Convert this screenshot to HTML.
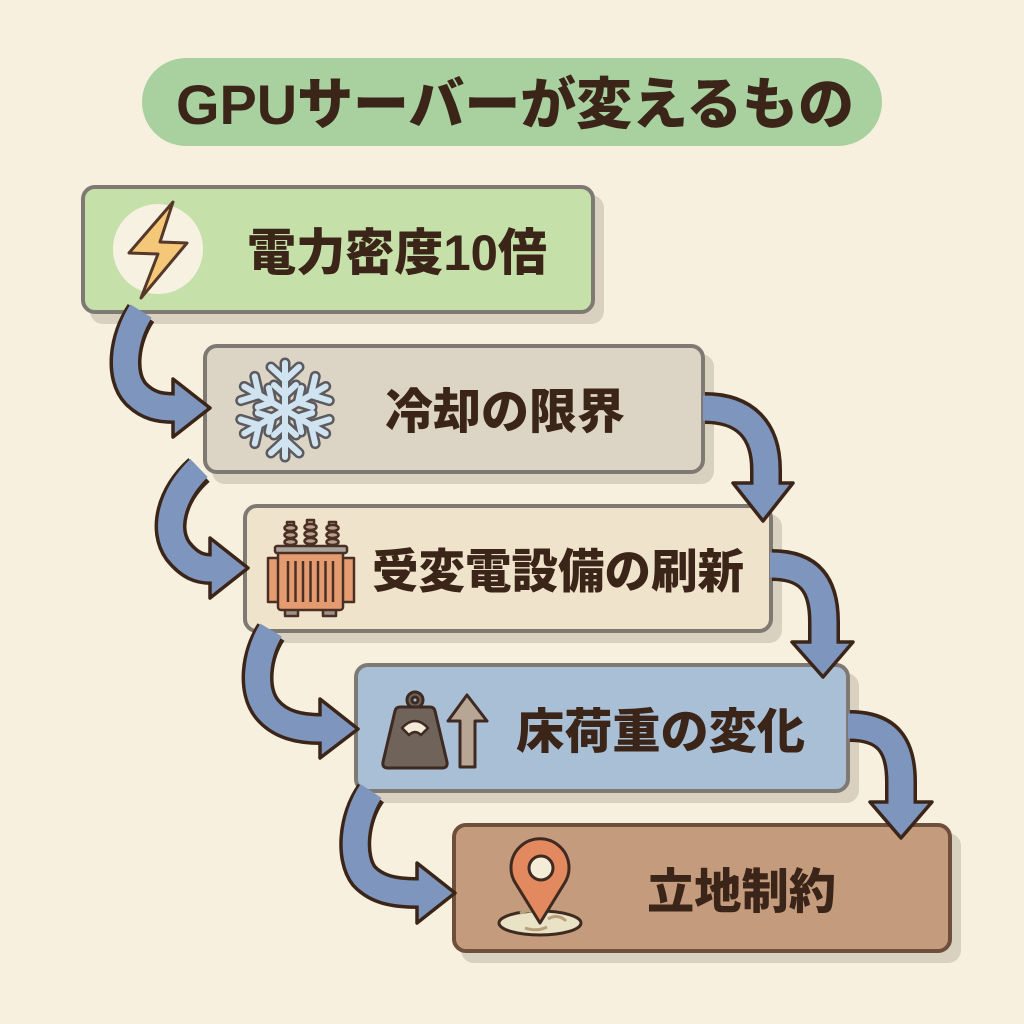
<!DOCTYPE html>
<html><head><meta charset="utf-8"><style>
html,body{margin:0;padding:0;background:#f8f0df;}
svg{display:block;}
.t{font-family:"Liberation Sans","Noto Sans CJK JP",sans-serif;font-weight:900;fill:#3b2519;}
</style></head><body>
<svg width="1024" height="1024" viewBox="0 0 1024 1024" xmlns="http://www.w3.org/2000/svg">
<rect width="1024" height="1024" fill="#f8f0df"/>
<!-- title -->
<rect x="142" y="58" width="740" height="88" rx="44" fill="#a9d09f"/>
<text class="t" x="176" y="124" font-size="56" textLength="678" lengthAdjust="spacingAndGlyphs">GPUサーバーが変えるもの</text>

<!-- shadows -->
<g fill="#8a8070" opacity="0.28">
<rect x="90" y="195" width="514" height="129" rx="13"/>
<rect x="212" y="354" width="502" height="130" rx="13"/>
<rect x="252" y="514" width="530" height="129" rx="13"/>
<rect x="363" y="673" width="496" height="130" rx="13"/>
<rect x="461" y="833" width="500" height="130" rx="13"/>
</g>
<!-- boxes -->
<rect x="83" y="187" width="510" height="125" rx="12" fill="#c6e0aa" stroke="#7e7a73" stroke-width="4"/>
<rect x="205" y="346" width="498" height="126" rx="12" fill="#dcd4c5" stroke="#7e7a73" stroke-width="4"/>
<rect x="245" y="506" width="526" height="125" rx="12" fill="#efe3cb" stroke="#7e7a73" stroke-width="4"/>
<rect x="356" y="665" width="492" height="126" rx="12" fill="#a9bfd6" stroke="#7e7a73" stroke-width="4"/>
<rect x="454" y="825" width="496" height="126" rx="12" fill="#c49c7d" stroke="#6e4e3c" stroke-width="4"/>

<!-- texts -->
<text class="t" x="247" y="270" font-size="50" textLength="300" lengthAdjust="spacingAndGlyphs">電力密度10倍</text>
<text class="t" x="385" y="428" font-size="48" textLength="240" lengthAdjust="spacingAndGlyphs">冷却の限界</text>
<text class="t" x="372" y="588" font-size="47" textLength="372" lengthAdjust="spacingAndGlyphs">受変電設備の刷新</text>
<text class="t" x="516" y="748" font-size="48" textLength="289" lengthAdjust="spacingAndGlyphs">床荷重の変化</text>
<text class="t" x="647" y="908" font-size="48" textLength="189" lengthAdjust="spacingAndGlyphs">立地制約</text>

<!-- lightning icon -->
<circle cx="158" cy="249" r="45" fill="#f7f1e1"/>
<polygon points="173,202 129,253 158,254 141,298 187,243 160,242" fill="#f4c878" stroke="#55382a" stroke-width="3" stroke-linejoin="round"/>

<!-- snowflake -->
<g transform="translate(285,410)" stroke-linecap="round" stroke-linejoin="round" fill="none">
  <g stroke="#5c5a5e" stroke-width="11">
    <g><line x1="0" y1="0" x2="0" y2="-47"/><polyline points="-14,-43 0,-30 14,-43"/><polyline points="-11,-25 0,-15 11,-25"/></g>
    <g transform="rotate(60)"><line x1="0" y1="0" x2="0" y2="-47"/><polyline points="-14,-43 0,-30 14,-43"/><polyline points="-11,-25 0,-15 11,-25"/></g>
    <g transform="rotate(120)"><line x1="0" y1="0" x2="0" y2="-47"/><polyline points="-14,-43 0,-30 14,-43"/><polyline points="-11,-25 0,-15 11,-25"/></g>
    <g transform="rotate(180)"><line x1="0" y1="0" x2="0" y2="-47"/><polyline points="-14,-43 0,-30 14,-43"/><polyline points="-11,-25 0,-15 11,-25"/></g>
    <g transform="rotate(240)"><line x1="0" y1="0" x2="0" y2="-47"/><polyline points="-14,-43 0,-30 14,-43"/><polyline points="-11,-25 0,-15 11,-25"/></g>
    <g transform="rotate(300)"><line x1="0" y1="0" x2="0" y2="-47"/><polyline points="-14,-43 0,-30 14,-43"/><polyline points="-11,-25 0,-15 11,-25"/></g>
  </g>
  <g stroke="#cfe3f0" stroke-width="6">
    <g><line x1="0" y1="0" x2="0" y2="-47"/><polyline points="-14,-43 0,-30 14,-43"/><polyline points="-11,-25 0,-15 11,-25"/></g>
    <g transform="rotate(60)"><line x1="0" y1="0" x2="0" y2="-47"/><polyline points="-14,-43 0,-30 14,-43"/><polyline points="-11,-25 0,-15 11,-25"/></g>
    <g transform="rotate(120)"><line x1="0" y1="0" x2="0" y2="-47"/><polyline points="-14,-43 0,-30 14,-43"/><polyline points="-11,-25 0,-15 11,-25"/></g>
    <g transform="rotate(180)"><line x1="0" y1="0" x2="0" y2="-47"/><polyline points="-14,-43 0,-30 14,-43"/><polyline points="-11,-25 0,-15 11,-25"/></g>
    <g transform="rotate(240)"><line x1="0" y1="0" x2="0" y2="-47"/><polyline points="-14,-43 0,-30 14,-43"/><polyline points="-11,-25 0,-15 11,-25"/></g>
    <g transform="rotate(300)"><line x1="0" y1="0" x2="0" y2="-47"/><polyline points="-14,-43 0,-30 14,-43"/><polyline points="-11,-25 0,-15 11,-25"/></g>
  </g>
</g>

<!-- transformer -->
<g stroke="#4a3024" stroke-width="2.5" stroke-linejoin="round">
  <g fill="#b9a28c">
    <rect x="287" y="522" width="7" height="25"/>
    <rect x="307" y="520" width="7" height="27"/>
    <rect x="329" y="522" width="7" height="25"/>
    <ellipse cx="290.5" cy="528" rx="6" ry="3"/><ellipse cx="290.5" cy="535" rx="6" ry="3"/><ellipse cx="290.5" cy="542" rx="6" ry="3"/>
    <ellipse cx="310.5" cy="527" rx="6" ry="3"/><ellipse cx="310.5" cy="534" rx="6" ry="3"/><ellipse cx="310.5" cy="541" rx="6" ry="3"/>
    <ellipse cx="332.5" cy="528" rx="6" ry="3"/><ellipse cx="332.5" cy="535" rx="6" ry="3"/><ellipse cx="332.5" cy="542" rx="6" ry="3"/>
  </g>
  <rect x="285" y="608" width="13" height="8" fill="#9c948c"/>
  <rect x="323" y="608" width="13" height="8" fill="#9c948c"/>
  <rect x="268" y="558" width="12" height="44" fill="#e59c72"/>
  <rect x="342" y="558" width="12" height="44" fill="#e59c72"/>
  <rect x="278" y="551" width="65" height="59" rx="3" fill="#e49b70"/>
  <rect x="275" y="546" width="72" height="7" rx="2" fill="#aaa49c"/>
</g>
<g stroke="#4a3024" stroke-width="2.5">
  <line x1="288" y1="561" x2="288" y2="602"/><line x1="295.5" y1="561" x2="295.5" y2="602"/><line x1="303" y1="561" x2="303" y2="602"/><line x1="310.5" y1="561" x2="310.5" y2="602"/><line x1="318" y1="561" x2="318" y2="602"/><line x1="325.5" y1="561" x2="325.5" y2="602"/><line x1="333" y1="561" x2="333" y2="602"/>
</g>

<!-- weight -->
<g stroke="#3e2a20" stroke-width="3" stroke-linejoin="round">
  <circle cx="415" cy="700" r="8" fill="#6f635a"/>
  <path d="M400,707 L430,707 Q434,707 435,711 L447,762 Q448,768 442,768 L388,768 Q382,768 383,762 L395,711 Q396,707 400,707 Z" fill="#6f635a"/>
  <circle cx="415" cy="700" r="3" fill="#a9bfd6"/>
  <path d="M402,728 Q415,714 428,728 L421,735 Q415,729 409,735 Z" fill="#f3ead8" stroke-width="2.5"/>
  <polygon points="467,695 487,721 475,721 475,767 460,767 460,721 448,721" fill="#b8a695"/>
</g>

<!-- pin -->
<g stroke="#3e2a20" stroke-width="3" stroke-linejoin="round">
  <ellipse cx="540" cy="923" rx="41" ry="12" fill="#e9e2c4"/>
  <path d="M520,913 q8,-4 16,0 M548,919 q10,-6 18,2 M525,928 q12,4 22,-1" stroke="#b9a07c" stroke-width="3" fill="none"/>
  <path d="M540,923 L516,884 A29,29 0 1 1 564,884 Z" fill="#e2895f"/>
  <circle cx="541" cy="868" r="12" fill="#f5ecd8"/>
</g>

<!-- arrows -->
<g fill="none" stroke-linecap="butt">
  <g stroke="#3b2519" stroke-width="32">
    <path d="M141,313 C124,338 119,376 136,394 C148,406 160,408 174,408"/>
    <path d="M199,470 C171,495 163,530 178,551 C190,566 200,569 211,569"/>
    <path d="M271,632 C256,655 252,690 267,709 C280,725 300,729 321,729"/>
    <path d="M371,793 C353,818 350,858 364,876 C377,890 395,893 418,893"/>
    <path d="M705,408 C745,408 766,430 766,470 L766,484"/>
    <path d="M772,565 C810,565 824,585 824,622 L824,643"/>
    <path d="M850,726 C888,726 901,746 901,782 L901,803"/>
  </g>
</g>
<g fill="#7e96bd" stroke="#3b2519" stroke-width="3.5" stroke-linejoin="round">
  <polygon points="173,379 210,408 173,437"/>
  <polygon points="210,538 248,568 210,598"/>
  <polygon points="320,699 358,729 320,758"/>
  <polygon points="417,863 455,893 417,923"/>
  <polygon points="733,483 793,483 763,521"/>
  <polygon points="792,642 853,642 823,677"/>
  <polygon points="870,802 932,802 901,838"/>
</g>
<g fill="none" stroke="#7e96bd" stroke-width="25" stroke-linecap="butt">
  <path d="M141,311 C124,338 119,376 136,394 C148,406 160,408 174,408 L180,408"/>
  <path d="M199,468 C171,495 163,530 178,551 C190,566 200,569 211,569 L217,569"/>
  <path d="M271,630 C256,655 252,690 267,709 C280,725 300,729 321,729 L327,729"/>
  <path d="M371,791 C353,818 350,858 364,876 C377,890 395,893 418,893 L424,893"/>
  <path d="M703,408 C745,408 766,430 766,470 L766,490"/>
  <path d="M770,565 C810,565 824,585 824,622 L824,649"/>
  <path d="M848,726 C888,726 901,746 901,782 L901,809"/>
</g>
</svg>
</body></html>
